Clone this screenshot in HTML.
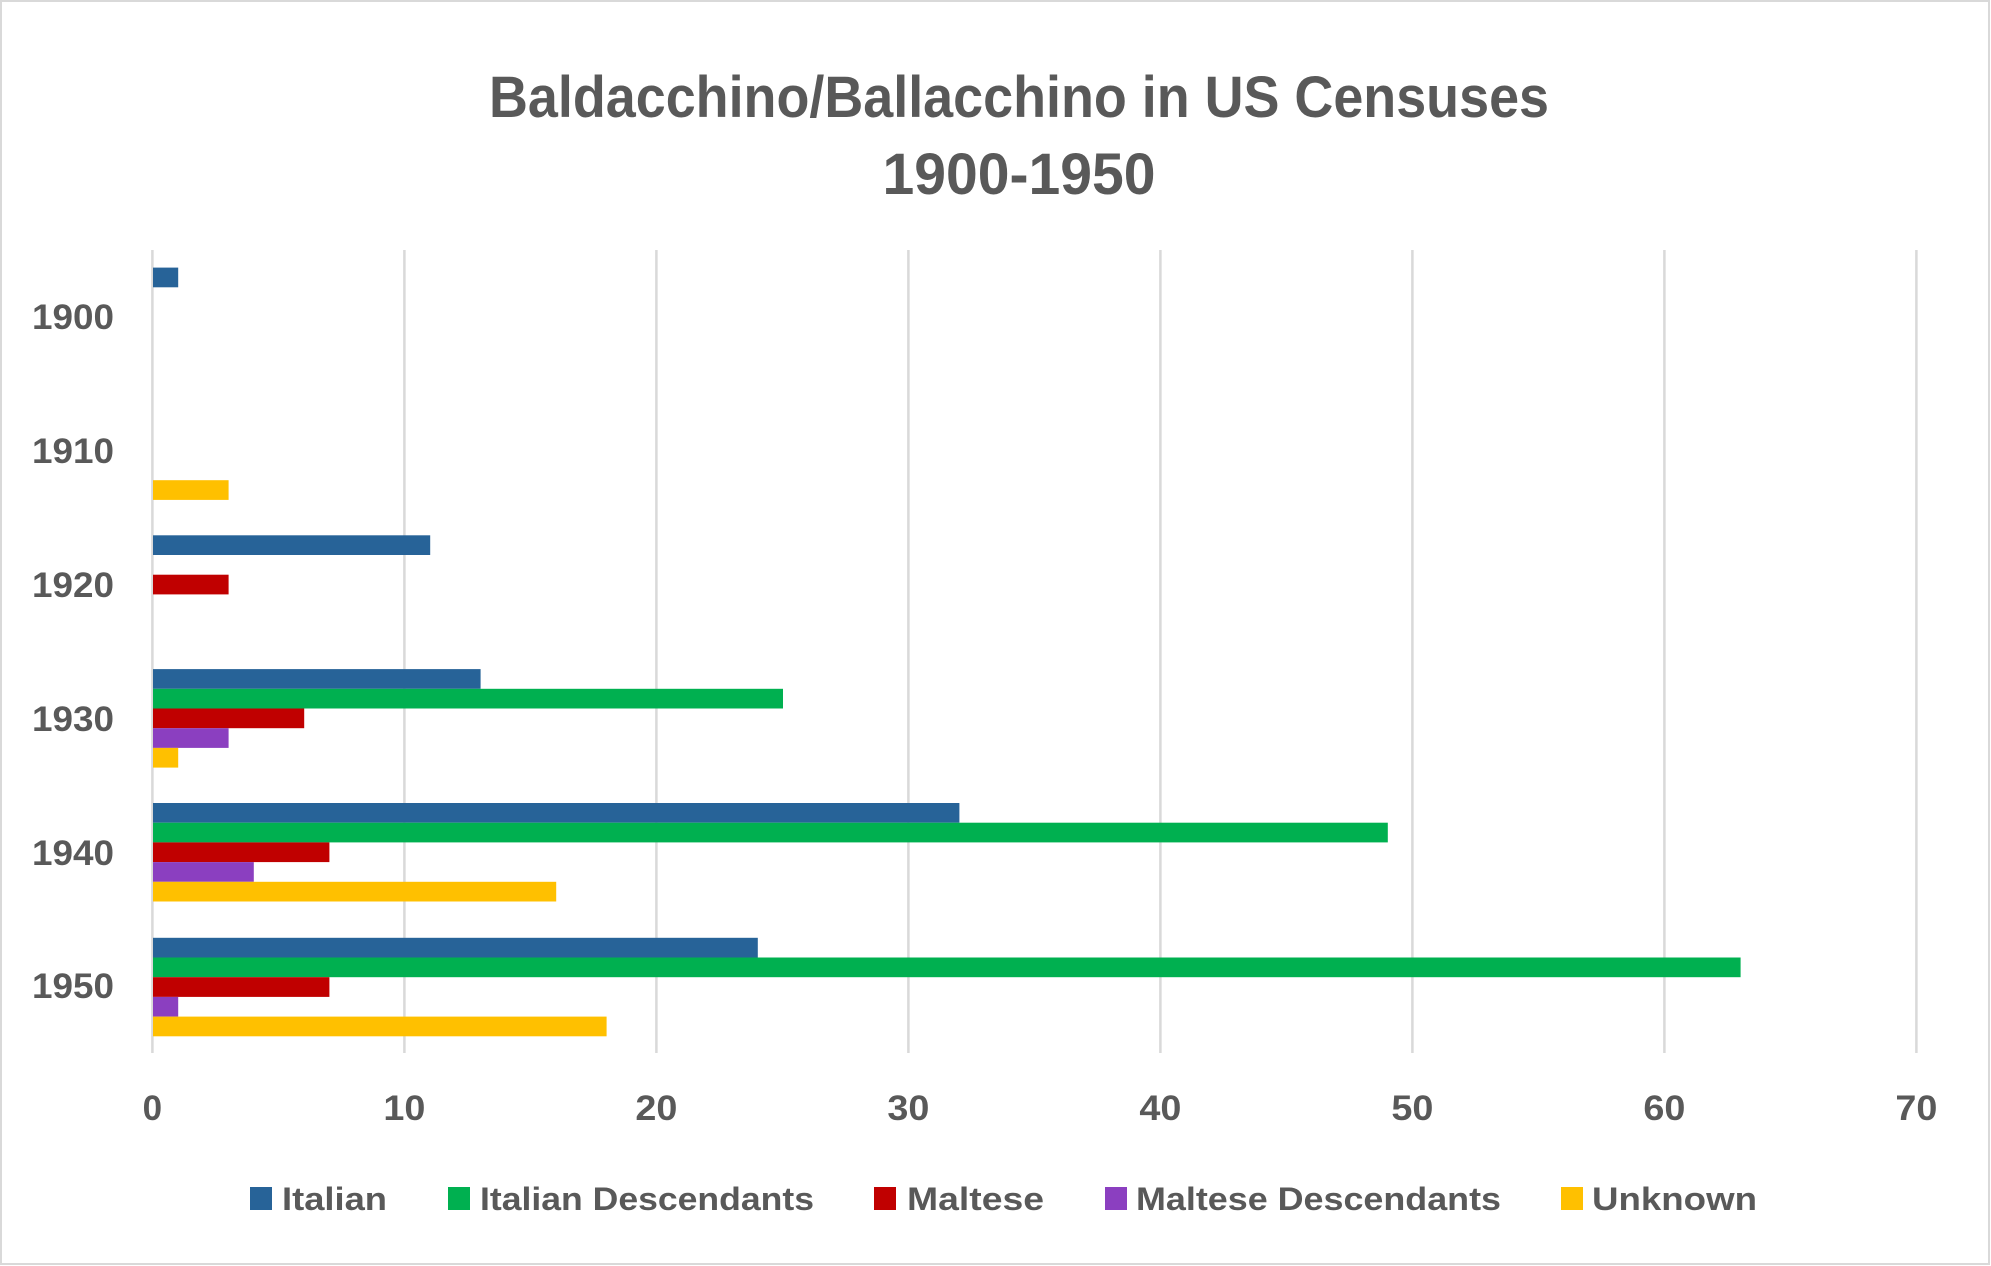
<!DOCTYPE html>
<html><head><meta charset="utf-8"><style>html,body{margin:0;padding:0;background:#fff}svg{display:block}</style></head>
<body>
<svg width="1991" height="1266" viewBox="0 0 1991 1266" xmlns="http://www.w3.org/2000/svg" font-family="Liberation Sans, sans-serif" font-weight="bold" fill="#595959">
<rect x="1" y="1" width="1988" height="1263" fill="#fff" stroke="#d9d9d9" stroke-width="2"/>
<text x="1019" y="117" font-size="58" text-anchor="middle" textLength="1060" lengthAdjust="spacingAndGlyphs">Baldacchino/Ballacchino in US Censuses</text>
<text x="1019" y="194" font-size="58" text-anchor="middle" textLength="273" lengthAdjust="spacingAndGlyphs">1900-1950</text>
<g stroke="#d9d9d9" stroke-width="2.5">
<line x1="152.4" y1="250" x2="152.4" y2="1053"/><line x1="404.4" y1="250" x2="404.4" y2="1053"/><line x1="656.4" y1="250" x2="656.4" y2="1053"/><line x1="908.4" y1="250" x2="908.4" y2="1053"/><line x1="1160.4" y1="250" x2="1160.4" y2="1053"/><line x1="1412.4" y1="250" x2="1412.4" y2="1053"/><line x1="1664.4" y1="250" x2="1664.4" y2="1053"/><line x1="1916.4" y1="250" x2="1916.4" y2="1053"/>
</g>
<g>
<!-- 1900 -->
<rect x="153" y="267.6" width="25.2" height="19.7" fill="#276398"/>
<!-- 1910 -->
<rect x="153" y="480.2" width="75.6" height="19.7" fill="#FFC000"/>
<!-- 1920 -->
<rect x="153" y="535.3" width="277.2" height="19.7" fill="#276398"/>
<rect x="153" y="574.7" width="75.6" height="19.7" fill="#C00000"/>
<!-- 1930 -->
<rect x="153" y="669.1" width="327.6" height="19.7" fill="#276398"/>
<rect x="153" y="688.8" width="630" height="19.7" fill="#00B050"/>
<rect x="153" y="708.5" width="151.2" height="19.7" fill="#C00000"/>
<rect x="153" y="728.2" width="75.6" height="19.7" fill="#8B3FC0"/>
<rect x="153" y="747.9" width="25.2" height="19.7" fill="#FFC000"/>
<!-- 1940 -->
<rect x="153" y="803.0" width="806.4" height="19.7" fill="#276398"/>
<rect x="153" y="822.7" width="1234.8" height="19.7" fill="#00B050"/>
<rect x="153" y="842.4" width="176.4" height="19.7" fill="#C00000"/>
<rect x="153" y="862.1" width="100.8" height="19.7" fill="#8B3FC0"/>
<rect x="153" y="881.8" width="403.2" height="19.7" fill="#FFC000"/>
<!-- 1950 -->
<rect x="153" y="937.8" width="604.8" height="19.7" fill="#276398"/>
<rect x="153" y="957.5" width="1587.6" height="19.7" fill="#00B050"/>
<rect x="153" y="977.2" width="176.4" height="19.7" fill="#C00000"/>
<rect x="153" y="996.9" width="25.2" height="19.7" fill="#8B3FC0"/>
<rect x="153" y="1016.6" width="453.6" height="19.7" fill="#FFC000"/>
</g>
<g font-size="35" text-anchor="end">
<text x="114" y="329" textLength="82" lengthAdjust="spacingAndGlyphs">1900</text>
<text x="114" y="463" textLength="82" lengthAdjust="spacingAndGlyphs">1910</text>
<text x="114" y="597" textLength="82" lengthAdjust="spacingAndGlyphs">1920</text>
<text x="114" y="731" textLength="82" lengthAdjust="spacingAndGlyphs">1930</text>
<text x="114" y="865" textLength="82" lengthAdjust="spacingAndGlyphs">1940</text>
<text x="114" y="998" textLength="82" lengthAdjust="spacingAndGlyphs">1950</text>
</g>
<g font-size="35" text-anchor="middle">
<text x="152.4" y="1120">0</text>
<text x="404.4" y="1120" textLength="42" lengthAdjust="spacingAndGlyphs">10</text>
<text x="656.4" y="1120" textLength="42" lengthAdjust="spacingAndGlyphs">20</text>
<text x="908.4" y="1120" textLength="42" lengthAdjust="spacingAndGlyphs">30</text>
<text x="1160.4" y="1120" textLength="42" lengthAdjust="spacingAndGlyphs">40</text>
<text x="1412.4" y="1120" textLength="42" lengthAdjust="spacingAndGlyphs">50</text>
<text x="1664.4" y="1120" textLength="42" lengthAdjust="spacingAndGlyphs">60</text>
<text x="1916.4" y="1120" textLength="42" lengthAdjust="spacingAndGlyphs">70</text>
</g>
<g font-size="32">
<rect x="250" y="1187" width="22" height="23" fill="#276398"/>
<text x="282" y="1210" textLength="105" lengthAdjust="spacingAndGlyphs">Italian</text>
<rect x="448" y="1187" width="22" height="23" fill="#00B050"/>
<text x="480" y="1210" textLength="334" lengthAdjust="spacingAndGlyphs">Italian Descendants</text>
<rect x="874" y="1187" width="22" height="23" fill="#C00000"/>
<text x="907" y="1210" textLength="137" lengthAdjust="spacingAndGlyphs">Maltese</text>
<rect x="1105" y="1187" width="22" height="23" fill="#8B3FC0"/>
<text x="1136" y="1210" textLength="365" lengthAdjust="spacingAndGlyphs">Maltese Descendants</text>
<rect x="1561" y="1187" width="22" height="23" fill="#FFC000"/>
<text x="1592" y="1210" textLength="165" lengthAdjust="spacingAndGlyphs">Unknown</text>
</g>
</svg>
</body></html>
